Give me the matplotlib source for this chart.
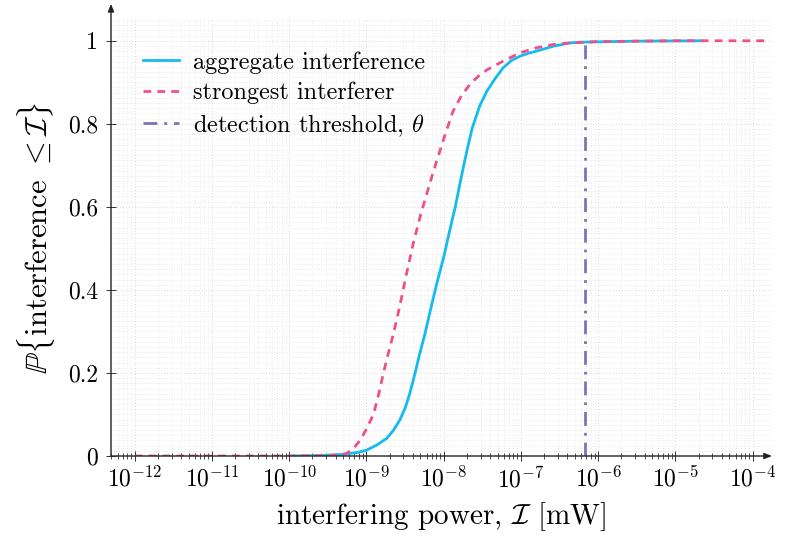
import numpy as np
import matplotlib
matplotlib.use("Agg")
import matplotlib.pyplot as plt
from matplotlib.ticker import MultipleLocator, FixedLocator

plt.rcParams['font.family'] = 'serif'
plt.rcParams['font.serif'] = ['cmr10', 'DejaVu Serif']
plt.rcParams['mathtext.fontset'] = 'cm'
plt.rcParams['axes.formatter.use_mathtext'] = True

# aggregate interference CDF (log10 of power in mW, probability)
agg_log_x = [-10.0, -9.6, -9.3, -9.1, -9.0, -8.87, -8.74, -8.65, -8.57, -8.50, -8.44, -8.37,
             -8.31, -8.24, -8.18, -8.09, -8.0, -7.92, -7.85, -7.78, -7.70, -7.63, -7.53,
             -7.44, -7.33, -7.23, -7.12, -7.01, -6.90, -6.80, -6.58, -6.36, -6.15, -5.5, -4.66]
agg_p = [0.0, 0.001, 0.004, 0.009, 0.014, 0.026, 0.042, 0.062, 0.086, 0.115, 0.15, 0.2,
         0.247, 0.296, 0.345, 0.415, 0.479, 0.545, 0.60, 0.665, 0.735, 0.79, 0.845,
         0.879, 0.91, 0.935, 0.953, 0.963, 0.970, 0.975, 0.987, 0.995, 0.997, 0.999, 1.0]

# strongest interferer CDF
str_log_x = [-12.0, -10.0, -9.5, -9.35, -9.26, -9.17, -9.08, -9.0, -8.91, -8.84, -8.78,
             -8.72, -8.65, -8.57, -8.48, -8.39, -8.30, -8.22, -8.15, -8.09, -7.98, -7.88,
             -7.77, -7.66, -7.55, -7.44, -7.23, -7.01, -6.80, -6.58, -6.36, -6.0, -5.0, -3.79]
str_p = [0.0, 0.0, 0.001, 0.003, 0.006, 0.018, 0.038, 0.065, 0.10, 0.15, 0.2,
         0.245, 0.295, 0.36, 0.44, 0.515, 0.58, 0.631, 0.675, 0.711, 0.775, 0.83,
         0.868, 0.895, 0.915, 0.93, 0.951, 0.971, 0.983, 0.991, 0.995, 0.998, 1.0, 1.0]

threshold_log = -6.168
threshold_p = [0.0, 1.0]

xmin_log, xmax_log = -12.307, -3.75
ymax = 1.05

fig = plt.figure(figsize=(8.02, 5.55), dpi=100)
ax = fig.add_axes([111/802, (555-456)/555, (772-111)/802, (456-20)/555])

c_agg = '#14BBEF'
c_str = '#F0508A'
c_thr = '#7B74BA'

ax.plot(10.0**np.array(agg_log_x), agg_p, color=c_agg, lw=2.0, label='aggregate interference', zorder=3)
ax.plot(10.0**np.array(str_log_x), str_p, color=c_str, lw=2.0, ls=(0, (2.8, 2.2)), label='strongest interferer', zorder=3)
ax.plot([10.0**threshold_log]*2, threshold_p, color=c_thr, lw=2.0, ls=(0, (5, 2.5, 1, 2.5)),
        label=r'detection threshold, $\theta$', zorder=3)

ax.set_xscale('log')
ax.set_xlim(10**xmin_log, 10**xmax_log)
ax.set_ylim(0, ymax)

ax.xaxis.set_major_locator(FixedLocator([10.0**k for k in range(-12, -3)]))
ax.xaxis.set_minor_locator(FixedLocator([m*10.0**k for k in range(-13, -4) for m in range(2, 10)]))
ax.set_xticklabels([r'$10^{%d}$' % k for k in range(-12, -3)])
ax.yaxis.set_major_locator(FixedLocator([0, 0.2, 0.4, 0.6, 0.8, 1.0]))
ax.set_yticklabels(['0', '0.2', '0.4', '0.6', '0.8', '1'])
ax.yaxis.set_minor_locator(MultipleLocator(0.0125))

ax.grid(which='major', color='#d8d8d8', ls=(0, (1, 2)), lw=0.7)
ax.grid(which='minor', color='#e6e6e6', ls=(0, (1, 2)), lw=0.6)
ax.set_axisbelow(True)

for s in ['top', 'right', 'left', 'bottom']:
    ax.spines[s].set_visible(False)

ax.tick_params(axis='both', which='major', direction='inout', length=7, width=0.7, labelsize=17, color='#333333')
ax.tick_params(axis='x', which='minor', direction='inout', length=4, width=0.6, color='#333333')
ax.tick_params(axis='y', which='minor', length=0)
ax.tick_params(axis='x', pad=4)
ax.tick_params(axis='y', pad=6)

# axis lines with arrows
ax.annotate('', xy=(1.0, 0), xytext=(0, 0), xycoords='axes fraction',
            arrowprops=dict(arrowstyle='-|>,head_length=0.45,head_width=0.18', color='#222222', lw=1.0,
                            shrinkA=0, shrinkB=0), annotation_clip=False)
ax.annotate('', xy=(0, 1.037), xytext=(0, 0), xycoords='axes fraction',
            arrowprops=dict(arrowstyle='-|>,head_length=0.45,head_width=0.18', color='#222222', lw=1.0,
                            shrinkA=0, shrinkB=0), annotation_clip=False)

ax.set_xlabel(r'interfering power, $\mathcal{I}$ [mW]', fontsize=21, labelpad=6)
ax.set_ylabel(r'$\mathbb{P}\{$interference $\leq \mathcal{I}\}$', fontsize=22, labelpad=8)

leg = ax.legend(loc='upper left', bbox_to_anchor=(0.033, 0.951), frameon=False, fontsize=17.5,
                handlelength=1.5, handletextpad=0.58, labelspacing=0.33, borderaxespad=0)

fig.savefig('out.png', dpi=100)
